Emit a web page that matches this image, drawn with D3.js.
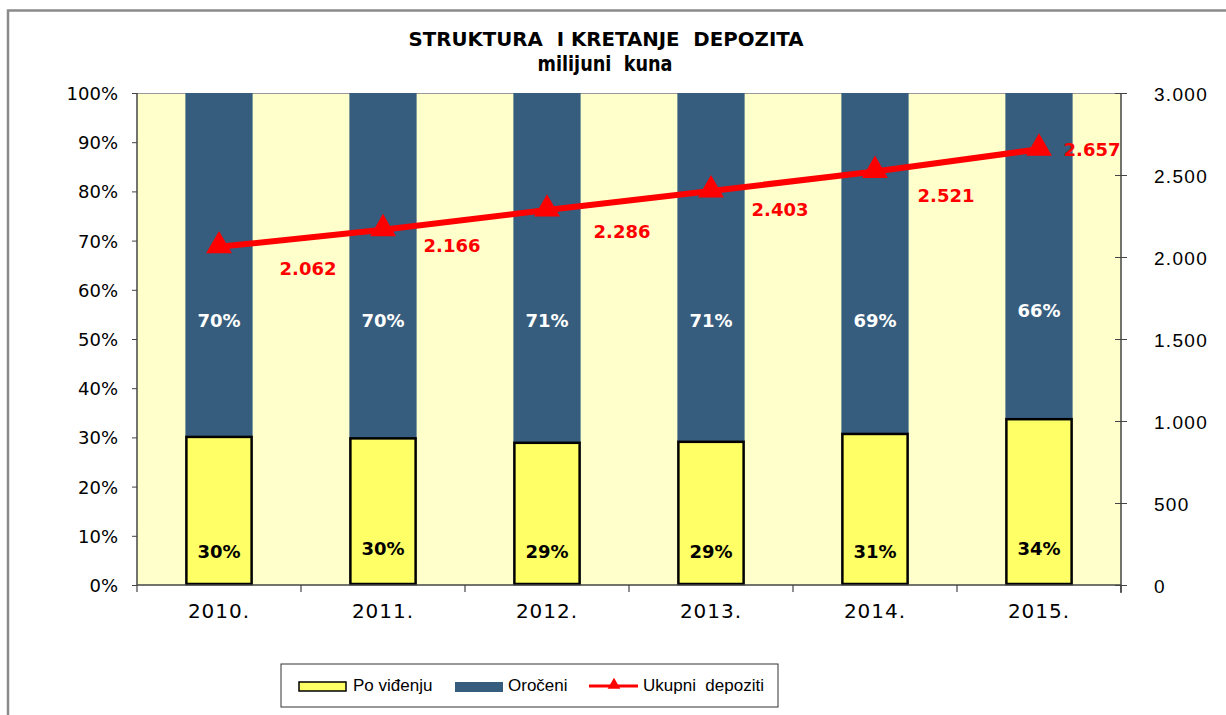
<!DOCTYPE html>
<html><head><meta charset="utf-8">
<script src="https://cdn.jsdelivr.net/npm/d3@7"></script>
<style>body{margin:0;background:#fff}svg{display:block}</style>
</head><body>
<svg id="c" width="1226" height="715"></svg>
<script>
const years = ["2010.","2011.","2012.","2013.","2014.","2015."];
const poVidjenju = [30.1, 29.8, 28.9, 29.1, 30.7, 33.7];
const oroceni = [69.9, 70.2, 71.1, 70.9, 69.3, 66.3];
const ukupni = [2062, 2166, 2286, 2403, 2521, 2657];
const leftTicks = [0,10,20,30,40,50,60,70,80,90,100];
const rightTicks = [0,500,1000,1500,2000,2500,3000];
const seriesNames = ["Po viđenju","Oročeni","Ukupni  depoziti"];

const svg = d3.select("#c");
const M = {l:137, r:1121, t:93, b:585};
const geo = "'DejaVu Sans',sans-serif";
const boldF = "'DejaVu Sans',sans-serif";

// outer frame
svg.append("path").attr("d","M8,715 V10.5 H1226").attr("fill","none").attr("stroke","#8a8a8a").attr("stroke-width",2.5);

const x = d3.scaleBand().domain(years).range([M.l, M.r]).paddingInner(0.59).paddingOuter(0.295);
const xc = d3.scaleBand().domain(years).range([M.l, M.r]);
const yL = d3.scaleLinear().domain([0,100]).range([M.b, M.t]);
const yR = d3.scaleLinear().domain([0,3000]).range([M.b, M.t]);

svg.append("rect").attr("x",M.l).attr("y",M.t).attr("width",M.r-M.l).attr("height",M.b-M.t).attr("fill","#FFFFCC");
svg.append("line").attr("x1",M.l).attr("x2",M.r).attr("y1",M.t+0.5).attr("y2",M.t+0.5).attr("stroke","#999").attr("stroke-width",1);

// bars
const g = svg.append("g");
g.selectAll(".o").data(years).join("rect")
  .attr("x",d=>x(d)).attr("width",x.bandwidth())
  .attr("y",(d,i)=>yL(poVidjenju[i]+oroceni[i])).attr("height",(d,i)=>yL(poVidjenju[i])-yL(poVidjenju[i]+oroceni[i]))
  .attr("fill","#365D7D");
g.selectAll(".p").data(years).join("rect")
  .attr("x",d=>x(d)+1).attr("width",x.bandwidth()-2)
  .attr("y",(d,i)=>yL(poVidjenju[i])).attr("height",(d,i)=>yL(0)-yL(poVidjenju[i])-1)
  .attr("fill","#FFFF66").attr("stroke","#000").attr("stroke-width",2.5);

// axes
const axL = d3.axisLeft(yL).tickValues(leftTicks).tickFormat(d=>d+"%").tickSize(5).tickPadding(14);
const gL = svg.append("g").attr("transform",`translate(${M.l},0)`).call(axL);
gL.selectAll("text").attr("font-family",geo).attr("font-size",18).attr("fill","#000").attr("dy","0.36em");
gL.selectAll("line,path").attr("stroke","#444");
gL.select(".domain").attr("d",`M0,${M.t}V${M.b}`).attr("stroke-width",1.5);

const axR = d3.axisRight(yR).tickValues(rightTicks).tickFormat(d=>d3.format(",")(d).replace(/,/g,".")).tickSize(6).tickPadding(27);
const gR = svg.append("g").attr("transform",`translate(${M.r},0)`).call(axR);
gR.selectAll("text").attr("font-family","'Liberation Sans',Arial,sans-serif").attr("font-size",19).attr("letter-spacing",1.3).attr("fill","#000").attr("dy","0.4em");
gR.selectAll(".tick line").attr("x1",-6).attr("stroke","#444");
gR.select(".domain").attr("d",`M0,${M.t}V${M.b+8}`).attr("stroke","#444").attr("stroke-width",1.5);

const axB = d3.axisBottom(xc).tickSize(0).tickPadding(33);
const gB = svg.append("g").attr("transform",`translate(0,${M.b})`).call(axB);
gB.select(".domain").attr("d",`M${M.l},0H${M.r}`).attr("stroke","#444").attr("stroke-width",1.5);
gB.selectAll("text").attr("font-family",geo).attr("font-size",20).attr("letter-spacing",1).attr("fill","#000").attr("dy","0");
// category separator ticks
svg.append("g").selectAll("line").data(d3.range(years.length+1)).join("line")
  .attr("x1",i=>M.l+i*xc.step()).attr("x2",i=>M.l+i*xc.step()).attr("y1",M.b).attr("y2",M.b+7)
  .attr("stroke","#444").attr("stroke-width",1.2);

// percentage labels
const fmtP = v=>Math.round(v)+"%";
g.selectAll(".lo").data(years).join("text")
  .attr("x",d=>x(d)+x.bandwidth()/2).attr("y",(d,i)=> i===5 ? yL(55.4) : yL(53.5))
  .attr("text-anchor","middle").attr("dominant-baseline","middle")
  .attr("font-family",boldF).attr("font-weight","bold").attr("font-size",18).attr("fill","#fff")
  .text((d,i)=>fmtP(oroceni[i]));
g.selectAll(".lp").data(years).join("text")
  .attr("x",d=>x(d)+x.bandwidth()/2).attr("y",(d,i)=> (i===1||i===5) ? yL(7.2) : yL(6.5))
  .attr("text-anchor","middle").attr("dominant-baseline","middle")
  .attr("font-family",boldF).attr("font-weight","bold").attr("font-size",18).attr("fill","#000")
  .text((d,i)=>fmtP(poVidjenju[i]));

// line
const cx = d=>xc(d)+xc.bandwidth()/2;
const line = d3.line().x((d,i)=>cx(years[i])).y(d=>yR(d));
svg.append("path").datum(ukupni).attr("d",line).attr("fill","none").attr("stroke","#FF0000").attr("stroke-width",6);
const tri = d3.symbol().type(d3.symbolTriangle).size(290);
svg.selectAll(".m").data(ukupni).join("path")
  .attr("transform",(d,i)=>`translate(${cx(years[i])},${yR(d)-1})`).attr("d",tri).attr("fill","#FF0000");
const labOff = [[89,23],[69,17],[75,23],[69,20],[71,25],[53,2]];
svg.selectAll(".lv").data(ukupni).join("text")
  .attr("x",(d,i)=>cx(years[i])+labOff[i][0]).attr("y",(d,i)=>yR(d)+labOff[i][1])
  .attr("text-anchor","middle").attr("dominant-baseline","middle")
  .attr("font-family",boldF).attr("font-weight","bold").attr("font-size",18).attr("fill","#FF0000")
  .text(d=>d3.format(",")(d).replace(/,/g,"."));

// title
svg.append("text").attr("x",606).attr("y",46).attr("text-anchor","middle")
  .attr("font-family",boldF).attr("font-weight","bold").attr("font-size",20).attr("fill","#000")
  .attr("textLength",395).attr("lengthAdjust","spacingAndGlyphs")
  .attr("xml:space","preserve").text("STRUKTURA  I KRETANJE  DEPOZITA");
svg.append("text").attr("x",605).attr("y",71).attr("text-anchor","middle")
  .attr("font-family",boldF).attr("font-weight","bold").attr("font-size",21).attr("fill","#000")
  .attr("textLength",135).attr("lengthAdjust","spacingAndGlyphs")
  .attr("xml:space","preserve").text("milijuni  kuna");

// legend
const lg = svg.append("g");
lg.append("rect").attr("x",281).attr("y",664).attr("width",497).attr("height",43).attr("fill","#fff").attr("stroke","#333").attr("stroke-width",1);
const lf = "'Liberation Sans',Arial,sans-serif";
lg.append("rect").attr("x",299).attr("y",682).attr("width",47).attr("height",9).attr("fill","#FFFF66").attr("stroke","#000").attr("stroke-width",1.5);
lg.append("text").attr("x",353).attr("y",687).attr("dominant-baseline","middle").attr("font-family",lf).attr("font-size",17).text(seriesNames[0]);
lg.append("rect").attr("x",455).attr("y",682).attr("width",48).attr("height",10).attr("fill","#365D7D");
lg.append("text").attr("x",508).attr("y",687).attr("dominant-baseline","middle").attr("font-family",lf).attr("font-size",17).text(seriesNames[1]);
lg.append("line").attr("x1",589).attr("x2",638).attr("y1",686).attr("y2",686).attr("stroke","#FF0000").attr("stroke-width",3);
lg.append("path").attr("transform","translate(614,685)").attr("d",d3.symbol().type(d3.symbolTriangle).size(70)).attr("fill","#FF0000");
lg.append("text").attr("x",643).attr("y",687).attr("dominant-baseline","middle").attr("font-family",lf).attr("font-size",17).attr("xml:space","preserve").text(seriesNames[2]);
</script>
</body></html>
